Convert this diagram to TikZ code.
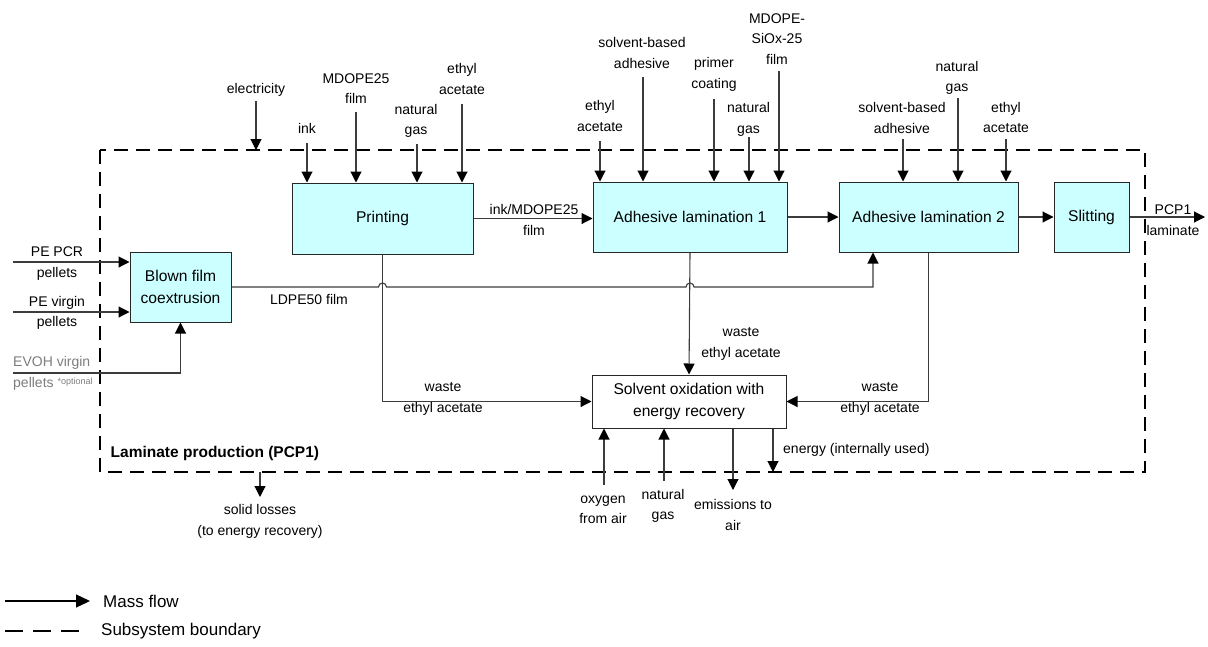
\documentclass[tikz,border=0pt]{standalone}
\usepackage{fontspec}
\setmainfont{Liberation Sans}
\usetikzlibrary{arrows.meta}
\definecolor{boxcyan}{RGB}{204,255,255}
\definecolor{linegray}{RGB}{60,60,60}
\definecolor{evohgray}{RGB}{125,125,125}
\newcommand\lblfont{\fontsize{14}{20.5}\selectfont}
\newcommand\bxfont{\fontsize{15.6}{22.5}\selectfont}
\newcommand\lgfont{\fontsize{17}{20}\selectfont}
\begin{document}
\begin{tikzpicture}[x=1pt,y=-1pt,
  procbox/.style={draw=black!85, line width=1pt, fill=boxcyan, inner sep=0pt, font=\bxfont, align=center},
  whitebox/.style={draw=black!85, line width=1pt, fill=white, inner sep=0pt, font=\bxfont, align=center},
  lbl/.style={inner sep=0pt, align=center, font=\lblfont},
  flow/.style={draw=linegray, line width=1.1pt, -{Triangle[length=11pt,width=11pt,color=black]}},
  plainline/.style={draw=linegray, line width=1.1pt},
  boundary/.style={draw=black, line width=2pt, dash pattern=on 14pt off 8pt},
]
\useasboundingbox (0,0) rectangle (1208,646);

% boundary
\draw[boundary] (100,150) rectangle (1145,472);

% process boxes
\node[procbox, minimum width=101pt, minimum height=70pt] (blown) at (180.5,287) {Blown film\\coextrusion};
\node[procbox, minimum width=181pt, minimum height=71pt] (print) at (382.5,218.5) {Printing};
\node[procbox, minimum width=194pt, minimum height=70pt] (al1) at (690,217) {Adhesive lamination 1};
\node[procbox, minimum width=179pt, minimum height=70pt] (al2) at (928.5,217) {Adhesive lamination 2};
\node[procbox, minimum width=75pt, minimum height=70pt] (slit) at (1091.5,217) {Slitting};
\node[whitebox, minimum width=194pt, minimum height=53pt] (solv) at (689,401.5) {Solvent oxidation with\\energy recovery};

% left inputs
\coordinate (pcr0) at (13,262);
\coordinate (vir0) at (13,312);
\coordinate (evoh0) at (13,373);
\draw[flow] (pcr0) -- (pcr0 -| blown.west);
\draw[flow] (vir0) -- (vir0 -| blown.west);
\draw[flow] (evoh0) -| (blown.south);
\node[lbl] (lpcr) at (57,263.5) {PE PCR\\pellets};
\node[lbl] (lvir) at (57,313) {PE virgin\\pellets};
\node[lbl, anchor=west, align=left, text=evohgray] (levoh) at (13,373.5) {EVOH virgin\\pellets {\fontsize{9}{10}\selectfont\raisebox{3pt}{*optional}}};

% electricity
\coordinate (elec0) at (256,101);
\coordinate (elec1) at (256,150);
\draw[flow] (elec0) -- (elec1);
\node[lbl] (lelec) at (256,90) {electricity};

% printing inputs
\coordinate (ink0) at (307,143);
\coordinate (md0) at (356,112);
\coordinate (ngp0) at (417,144);
\coordinate (eap0) at (462,104);
\draw[flow] (ink0) -- (ink0 |- print.north);
\draw[flow] (md0) -- (md0 |- print.north);
\draw[flow] (ngp0) -- (ngp0 |- print.north);
\draw[flow] (eap0) -- (eap0 |- print.north);
\node[lbl] (link) at (307,128) {ink};
\node[lbl] (lmd) at (356,88.5) {MDOPE25\\film};
\node[lbl] (lngp) at (416,121) {natural\\gas};
\node[lbl] (leap) at (462,79) {ethyl\\acetate};

% AL1 inputs
\coordinate (ea1) at (600,141);
\coordinate (sa1) at (643,77);
\coordinate (pc1) at (714,99);
\coordinate (ng1) at (749,137);
\coordinate (sx1) at (779,71);
\draw[flow] (ea1) -- (ea1 |- al1.north);
\draw[flow] (sa1) -- (sa1 |- al1.north);
\draw[flow] (pc1) -- (pc1 |- al1.north);
\draw[flow] (ng1) -- (ng1 |- al1.north);
\draw[flow] (sx1) -- (sx1 |- al1.north);
\node[lbl] (lea1) at (600,116) {ethyl\\acetate};
\node[lbl] (lsa1) at (642,53) {solvent-based\\adhesive};
\node[lbl] (lpc1) at (714,74.5) {primer\\coating};
\node[lbl] (lng1) at (748.5,119.5) {natural\\gas};
\node[lbl] (lsx1) at (777,39) {MDOPE-\\SiOx-25\\film};

% AL2 inputs
\coordinate (sa2) at (903,139);
\coordinate (ng2) at (958,98);
\coordinate (ea2) at (1006,139);
\draw[flow] (sa2) -- (sa2 |- al2.north);
\draw[flow] (ng2) -- (ng2 |- al2.north);
\draw[flow] (ea2) -- (ea2 |- al2.north);
\node[lbl] (lsa2) at (902,118) {solvent-based\\adhesive};
\node[lbl] (lng2) at (957,78) {natural\\gas};
\node[lbl] (lea2) at (1006,117.5) {ethyl\\acetate};

% main line
\draw[flow] (print.east) -- (print.east -| al1.west);
\node[lbl] (lim) at (534,220) {ink/MDOPE25\\film};
\draw[flow] (al1.east) -- (al2.west);
\draw[flow] (al2.east) -- (slit.west);
\coordinate (out) at (1205,217);
\draw[flow] (slit.east) -- (out);
\node[lbl] (lout) at (1173,220) {PCP1\\laminate};

% LDPE50 film line with jumps
\coordinate (ldpeUp) at (873,287);
\draw[flow] (blown.east) -- ([xshift=-4pt]print.south |- blown.east)
  arc[start angle=180,end angle=0,radius=4pt]
  -- ([xshift=-4pt]al1.south |- blown.east)
  arc[start angle=180,end angle=0,radius=4pt]
  -- (ldpeUp) -- (ldpeUp |- al2.south);
\node[lbl] (lldpe) at (309,299) {LDPE50 film};

% waste streams
\draw[flow] (print.south) |- (solv.west);
\node[lbl] (lw1) at (443,399) {waste\\ethyl acetate};
\draw[flow] (al1.south) -- (solv.north);
\node[lbl] (lw2) at (741,344) {waste\\ethyl acetate};
\draw[flow] (al2.south) |- (solv.east);
\node[lbl] (lw3) at (880,399) {waste\\ethyl acetate};

% bottom of solvent box
\coordinate (oxy0) at (604,485);
\coordinate (ngb0) at (664,481);
\coordinate (emi1) at (733,490);
\coordinate (en1) at (773,472);
\draw[flow] (oxy0) -- (oxy0 |- solv.south);
\draw[flow] (ngb0) -- (ngb0 |- solv.south);
\draw[flow] (emi1 |- solv.south) -- (emi1);
\draw[flow] (en1 |- solv.south) -- (en1);
\node[lbl] (loxy) at (603,510) {oxygen\\from air};
\node[lbl] (lngb) at (663,506) {natural\\gas};
\node[lbl] (lemi) at (733,515) {emissions to\\air};
\node[lbl, anchor=west] (len) at (783,450) {energy (internally used)};

% subsystem label and solid losses
\node[inner sep=0pt, anchor=west, font=\fontsize{15.5}{18}\selectfont\bfseries] (lsub) at (110.5,453) {Laminate production (PCP1)};
\coordinate (sl0) at (260,472);
\coordinate (sl1) at (260,497);
\draw[flow] (sl0) -- (sl1);
\node[lbl] (lsl) at (260,521.5) {solid losses\\(to energy recovery)};

% legend
\coordinate (lg0) at (5,601);
\coordinate (lg1) at (90,601);
\draw[draw=black, line width=1.3pt, -{Triangle[length=14pt,width=13pt]}] (lg0) -- (lg1);
\node[inner sep=0pt, anchor=west, font=\lgfont] (lgm) at (103,601) {Mass flow};
\coordinate (lg2) at (5,631);
\coordinate (lg3) at (80,631);
\draw[draw=black, line width=1.4pt, dash pattern=on 18pt off 10pt] (lg2) -- (lg3);
\node[inner sep=0pt, anchor=west, font=\lgfont] (lgs) at (101,631) {Subsystem boundary};
\end{tikzpicture}
\end{document}
